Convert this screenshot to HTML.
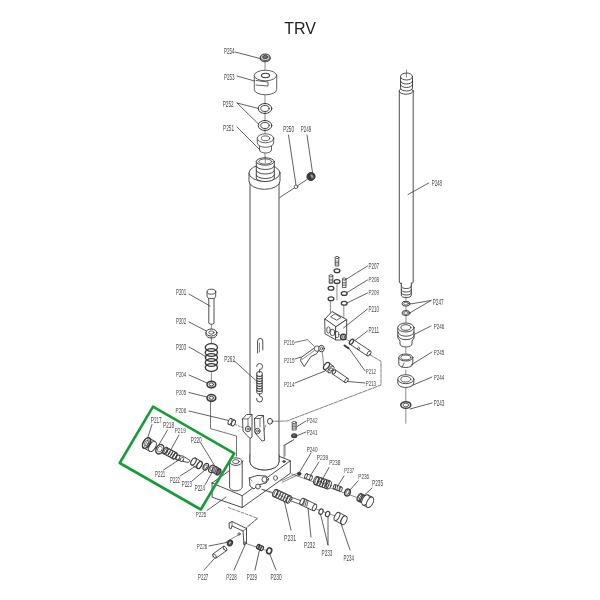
<!DOCTYPE html>
<html><head><meta charset="utf-8"><style>
html,body{margin:0;padding:0;background:#fff;}
body{width:600px;height:600px;overflow:hidden;position:relative;}
svg{position:absolute;left:0;top:0;filter:blur(0.3px);}
text{font-family:"Liberation Sans",sans-serif;}
</style></head><body>
<svg width="600" height="600" viewBox="0 0 600 600" stroke-linecap="round" stroke-linejoin="round">
<text x="300" y="33.6" font-size="16" text-anchor="middle" fill="#222" style="font-family:'Liberation Sans',sans-serif">TRV</text>
<line x1="265" y1="60" x2="265" y2="72" stroke="#3a3a3a" stroke-width="0.6"/>
<line x1="265" y1="95" x2="265" y2="104" stroke="#3a3a3a" stroke-width="0.6"/>
<line x1="265" y1="112" x2="265" y2="121" stroke="#3a3a3a" stroke-width="0.6"/>
<line x1="265" y1="129" x2="265" y2="134" stroke="#3a3a3a" stroke-width="0.6"/>
<line x1="265" y1="152" x2="265" y2="160" stroke="#3a3a3a" stroke-width="0.6"/>
<ellipse cx="265.2" cy="57.9" rx="5.0" ry="3.9" stroke="#3a3a3a" stroke-width="1.1" fill="#c8c8c8"/>
<path d="M260.5,58 A4.7,2.5 0 0 0 270,58" stroke="#3a3a3a" stroke-width="0.8" fill="none"/>
<ellipse cx="265.2" cy="57" rx="2.6" ry="1.5" stroke="#3a3a3a" stroke-width="0.9" fill="#777"/>
<text x="224" y="53.5" font-size="8.23" textLength="10.50" lengthAdjust="spacingAndGlyphs" fill="#444">P254</text>
<line x1="235" y1="52" x2="260" y2="58.5" stroke="#3a3a3a" stroke-width="0.8"/>
<path d="M254.3,75.5 L254.3,89.5 A11.2,5.3 0 0 0 276.7,89.5 L276.7,75.5 Z" stroke="#3a3a3a" stroke-width="0.8" fill="#fff"/>
<ellipse cx="265.5" cy="75.5" rx="11.2" ry="5.3" stroke="#3a3a3a" stroke-width="0.8" fill="#fff"/>
<ellipse cx="265.5" cy="75.5" rx="4" ry="2.2" stroke="#3a3a3a" stroke-width="1.1" fill="none"/>
<polyline points="256,80.5 268,82 268,86 256,85" stroke="#3a3a3a" stroke-width="0.8" fill="none"/>
<text x="224" y="79.5" font-size="8.92" textLength="10.50" lengthAdjust="spacingAndGlyphs" fill="#444">P253</text>
<line x1="237" y1="76" x2="254.5" y2="81" stroke="#3a3a3a" stroke-width="0.8"/>
<ellipse cx="265" cy="108.5" rx="6.8" ry="5" stroke="#3a3a3a" stroke-width="1.0" fill="none"/>
<ellipse cx="265" cy="108.5" rx="4.2" ry="3" stroke="#3a3a3a" stroke-width="0.9" fill="none"/>
<ellipse cx="265" cy="125.5" rx="6.8" ry="5" stroke="#3a3a3a" stroke-width="1.0" fill="none"/>
<ellipse cx="265" cy="125.5" rx="4.2" ry="3" stroke="#3a3a3a" stroke-width="0.9" fill="none"/>
<text x="222.7" y="106.7" font-size="8.78" textLength="11.00" lengthAdjust="spacingAndGlyphs" fill="#444">P252</text>
<line x1="237" y1="103" x2="258.5" y2="108.5" stroke="#3a3a3a" stroke-width="0.8"/>
<line x1="237" y1="103" x2="259" y2="124.5" stroke="#3a3a3a" stroke-width="0.8"/>
<path d="M259.5,140 L259.5,150 A6,3 0 0 0 271.5,150 L271.5,140" stroke="#3a3a3a" stroke-width="0.8" fill="#fff"/>
<path d="M257.3,138.3 L257.3,142.8 A8.2,4.5 0 0 0 273.7,142.8 L273.7,138.3 Z" stroke="#3a3a3a" stroke-width="0.8" fill="#fff"/>
<ellipse cx="265.5" cy="138.3" rx="8.2" ry="4.5" stroke="#3a3a3a" stroke-width="0.8" fill="#fff"/>
<ellipse cx="265.5" cy="138.3" rx="4.2" ry="2.4" stroke="#3a3a3a" stroke-width="0.8" fill="none"/>
<text x="223" y="131.3" font-size="8.64" textLength="11.00" lengthAdjust="spacingAndGlyphs" fill="#444">P251</text>
<line x1="237" y1="127" x2="260" y2="150" stroke="#3a3a3a" stroke-width="0.8"/>
<path d="M250,181 L250,462 A14.5,8 0 0 0 279,462 L279,181" stroke="#3a3a3a" stroke-width="0.9" fill="#fff"/>
<path d="M249,173 L249,181 A15.5,8.3 0 0 0 280,181 L280,173" stroke="#3a3a3a" stroke-width="0.9" fill="#fff"/>
<ellipse cx="264.5" cy="173" rx="15.5" ry="8.3" stroke="#3a3a3a" stroke-width="0.9" fill="#fff"/>
<path d="M256.3,161.5 L256.3,178 A9,3.5 0 0 0 274.3,178 L274.3,161.5" stroke="#3a3a3a" stroke-width="0.9" fill="#fff"/>
<path d="M256.3,166 A9,3.5 0 0 0 274.3,166" stroke="#3a3a3a" stroke-width="0.9" fill="none"/>
<path d="M256.3,170.5 A9,3.5 0 0 0 274.3,170.5" stroke="#3a3a3a" stroke-width="0.9" fill="none"/>
<path d="M256.3,175 A9,3.5 0 0 0 274.3,175" stroke="#3a3a3a" stroke-width="0.9" fill="none"/>
<ellipse cx="265.3" cy="161.5" rx="9" ry="3.7" stroke="#3a3a3a" stroke-width="0.9" fill="#fff"/>
<ellipse cx="265.3" cy="161.5" rx="6.5" ry="2.6" stroke="#3a3a3a" stroke-width="0.8" fill="none"/>
<line x1="265.3" y1="157" x2="265.3" y2="163" stroke="#3a3a3a" stroke-width="0.6"/>
<text x="283.2" y="132.2" font-size="8.23" textLength="10.80" lengthAdjust="spacingAndGlyphs" fill="#444">P250</text>
<text x="300.7" y="132.2" font-size="8.23" textLength="10.50" lengthAdjust="spacingAndGlyphs" fill="#444">P249</text>
<line x1="288.5" y1="135" x2="296" y2="185" stroke="#3a3a3a" stroke-width="0.8"/>
<line x1="307" y1="135" x2="312.5" y2="172.5" stroke="#3a3a3a" stroke-width="0.8"/>
<line x1="279.8" y1="197.5" x2="307" y2="179.5" stroke="#3a3a3a" stroke-width="0.8"/>
<ellipse cx="296" cy="186.8" rx="1.8" ry="1.8" stroke="#3a3a3a" stroke-width="0.8" fill="#fff"/>
<ellipse cx="311" cy="176.5" rx="4.1" ry="3.9" stroke="#3a3a3a" stroke-width="1.0" fill="#3a3a3a" transform="rotate(-30 311 176.5)"/>
<ellipse cx="312" cy="176.2" rx="1.6" ry="2.6" stroke="#3a3a3a" stroke-width="0.6" fill="#999" transform="rotate(-30 312 176.2)"/>
<path d="M399.3,91 L399.3,282 A7,3 0 0 0 413.2,282 L413.2,91" stroke="#3a3a3a" stroke-width="0.9" fill="#fff"/>
<ellipse cx="406.2" cy="91" rx="7" ry="3.2" stroke="#3a3a3a" stroke-width="0.9" fill="#fff"/>
<path d="M400.5,76.5 L400.5,88 A6,3 0 0 0 412.5,88 L412.5,76.5" stroke="#3a3a3a" stroke-width="0.9" fill="#fff"/>
<path d="M400.5,81 A6,3 0 0 0 412.5,81" stroke="#3a3a3a" stroke-width="0.9" fill="none"/>
<path d="M400.5,84.5 A6,3 0 0 0 412.5,84.5" stroke="#3a3a3a" stroke-width="0.9" fill="none"/>
<ellipse cx="406.5" cy="76.5" rx="6" ry="3.5" stroke="#3a3a3a" stroke-width="0.9" fill="#fff"/>
<line x1="406.5" y1="70" x2="406.5" y2="77" stroke="#3a3a3a" stroke-width="0.6"/>
<text x="431.7" y="186" font-size="8.23" textLength="10.30" lengthAdjust="spacingAndGlyphs" fill="#444">P248</text>
<line x1="428.7" y1="183" x2="408" y2="194.5" stroke="#3a3a3a" stroke-width="0.8"/>
<path d="M401.3,283 L401.3,295 A5,2.5 0 0 0 411.3,295 L411.3,283" stroke="#3a3a3a" stroke-width="0.9" fill="#fff"/>
<path d="M401.3,286 A5,2.5 0 0 0 411.3,286" stroke="#3a3a3a" stroke-width="0.9" fill="none"/>
<path d="M401.3,289.5 A5,2.5 0 0 0 411.3,289.5" stroke="#3a3a3a" stroke-width="0.9" fill="none"/>
<path d="M401.3,292.5 A5,2.5 0 0 0 411.3,292.5" stroke="#3a3a3a" stroke-width="0.9" fill="none"/>
<line x1="406" y1="297" x2="406" y2="300" stroke="#3a3a3a" stroke-width="0.6"/>
<line x1="406" y1="307" x2="406" y2="310" stroke="#3a3a3a" stroke-width="0.6"/>
<line x1="406" y1="316" x2="406" y2="324" stroke="#3a3a3a" stroke-width="0.6"/>
<ellipse cx="406" cy="303.7" rx="4" ry="2.5" stroke="#3a3a3a" stroke-width="1.0" fill="none"/>
<ellipse cx="406" cy="303.7" rx="2.3" ry="1.4" stroke="#3a3a3a" stroke-width="0.7" fill="none"/>
<ellipse cx="406" cy="313" rx="4" ry="2.5" stroke="#3a3a3a" stroke-width="1.0" fill="none"/>
<ellipse cx="406" cy="313" rx="2.3" ry="1.4" stroke="#3a3a3a" stroke-width="0.7" fill="none"/>
<text x="432.7" y="304.7" font-size="8.23" textLength="11.00" lengthAdjust="spacingAndGlyphs" fill="#444">P247</text>
<line x1="431" y1="300.5" x2="410.5" y2="304" stroke="#3a3a3a" stroke-width="0.8"/>
<line x1="431" y1="300.5" x2="410.5" y2="312.5" stroke="#3a3a3a" stroke-width="0.8"/>
<path d="M397.8,327.5 L397.8,338 L400,341 L400,344 A6,3 0 0 0 412,344 L412,341 L414,338 L414,327.5" stroke="#3a3a3a" stroke-width="0.9" fill="#fff"/>
<path d="M397.9,332 A8.1,4.2 0 0 0 414.1,332" stroke="#3a3a3a" stroke-width="0.9" fill="none"/>
<path d="M397.9,335.5 A8.1,4.2 0 0 0 414.1,335.5" stroke="#3a3a3a" stroke-width="0.9" fill="none"/>
<ellipse cx="405.9" cy="327.5" rx="8.1" ry="4.5" stroke="#3a3a3a" stroke-width="0.9" fill="#fff"/>
<ellipse cx="405.9" cy="327.5" rx="5" ry="2.8" stroke="#3a3a3a" stroke-width="0.9" fill="none"/>
<text x="433.7" y="329.3" font-size="7.68" textLength="10.50" lengthAdjust="spacingAndGlyphs" fill="#444">P246</text>
<line x1="431" y1="326" x2="414" y2="334.5" stroke="#3a3a3a" stroke-width="0.8"/>
<line x1="405.8" y1="348" x2="405.8" y2="353" stroke="#3a3a3a" stroke-width="0.6"/>
<path d="M398.8,357.5 L398.8,364 A7,3.5 0 0 0 412.8,364 L412.8,357.5" stroke="#3a3a3a" stroke-width="0.9" fill="#fff"/>
<ellipse cx="405.8" cy="357.5" rx="7" ry="3.5" stroke="#3a3a3a" stroke-width="0.9" fill="#fff"/>
<ellipse cx="405.8" cy="357.5" rx="5" ry="2.4" stroke="#3a3a3a" stroke-width="0.8" fill="none"/>
<line x1="404" y1="363" x2="402" y2="367.5" stroke="#3a3a3a" stroke-width="0.7"/>
<text x="433.7" y="355" font-size="7.96" textLength="10.50" lengthAdjust="spacingAndGlyphs" fill="#444">P245</text>
<line x1="432" y1="352" x2="411" y2="365" stroke="#3a3a3a" stroke-width="0.8"/>
<line x1="405.8" y1="370" x2="405.8" y2="375" stroke="#3a3a3a" stroke-width="0.6"/>
<path d="M397.8,379.2 L397.8,383 A8,4.5 0 0 0 413.8,383 L413.8,379.2" stroke="#3a3a3a" stroke-width="0.9" fill="#fff"/>
<ellipse cx="405.8" cy="379.2" rx="8" ry="4.5" stroke="#3a3a3a" stroke-width="0.9" fill="#fff"/>
<ellipse cx="405.8" cy="379.2" rx="5" ry="2.8" stroke="#3a3a3a" stroke-width="0.8" fill="none"/>
<text x="433.7" y="380" font-size="7.96" textLength="10.50" lengthAdjust="spacingAndGlyphs" fill="#444">P244</text>
<line x1="432" y1="377" x2="412" y2="385.5" stroke="#3a3a3a" stroke-width="0.8"/>
<line x1="405.8" y1="388" x2="405.8" y2="401" stroke="#3a3a3a" stroke-width="0.6"/>
<ellipse cx="405.8" cy="405" rx="5" ry="3.3" stroke="#3a3a3a" stroke-width="1.5" fill="#fff"/>
<ellipse cx="405.8" cy="405" rx="2.8" ry="1.8" stroke="#3a3a3a" stroke-width="0.8" fill="none"/>
<text x="433.7" y="406" font-size="8.23" textLength="10.50" lengthAdjust="spacingAndGlyphs" fill="#444">P243</text>
<line x1="432" y1="403" x2="410" y2="409" stroke="#3a3a3a" stroke-width="0.8"/>
<line x1="405.8" y1="409" x2="405.8" y2="423.3" stroke="#3a3a3a" stroke-width="0.6"/>
<path d="M208.8,295 L208.8,323 A2.6,1.3 0 0 0 214,323 L214,295" stroke="#3a3a3a" stroke-width="0.9" fill="#fff"/>
<path d="M207.1,291.7 L207.1,296.3 A4.3,2.3 0 0 0 215.7,296.3 L215.7,291.7" stroke="#3a3a3a" stroke-width="0.9" fill="#fff"/>
<ellipse cx="211.4" cy="291.7" rx="4.3" ry="2.5" stroke="#3a3a3a" stroke-width="0.9" fill="#fff"/>
<text x="176" y="295.2" font-size="8.37" textLength="10.20" lengthAdjust="spacingAndGlyphs" fill="#444">P201</text>
<line x1="189" y1="294" x2="210" y2="306" stroke="#3a3a3a" stroke-width="0.8"/>
<line x1="211.4" y1="325" x2="211.4" y2="329" stroke="#3a3a3a" stroke-width="0.6"/>
<path d="M206,332.5 L206,334.5 A5.4,3.5 0 0 0 216.8,334.5 L216.8,332.5" stroke="#3a3a3a" stroke-width="1.0" fill="#fff"/>
<ellipse cx="211.4" cy="332.5" rx="5.4" ry="3.5" stroke="#3a3a3a" stroke-width="1.0" fill="#fff"/>
<ellipse cx="211.4" cy="332.5" rx="2.6" ry="1.6" stroke="#3a3a3a" stroke-width="0.8" fill="none"/>
<text x="176" y="324" font-size="8.23" textLength="10.20" lengthAdjust="spacingAndGlyphs" fill="#444">P202</text>
<line x1="189" y1="322" x2="206.5" y2="331" stroke="#3a3a3a" stroke-width="0.8"/>
<line x1="211.4" y1="337" x2="211.4" y2="343" stroke="#3a3a3a" stroke-width="0.6"/>
<ellipse cx="211.4" cy="347.5" rx="6.1" ry="3.9" stroke="#3a3a3a" stroke-width="1.4" fill="none"/>
<ellipse cx="211.4" cy="352.5" rx="6.1" ry="3.9" stroke="#3a3a3a" stroke-width="1.4" fill="none"/>
<ellipse cx="211.4" cy="357.5" rx="6.1" ry="3.9" stroke="#3a3a3a" stroke-width="1.4" fill="none"/>
<ellipse cx="211.4" cy="362.5" rx="6.1" ry="3.9" stroke="#3a3a3a" stroke-width="1.4" fill="none"/>
<ellipse cx="211.4" cy="367.5" rx="6.1" ry="3.9" stroke="#3a3a3a" stroke-width="1.4" fill="none"/>
<text x="176" y="350.2" font-size="8.78" textLength="10.20" lengthAdjust="spacingAndGlyphs" fill="#444">P203</text>
<line x1="189" y1="347" x2="206.5" y2="357" stroke="#3a3a3a" stroke-width="0.8"/>
<line x1="211.4" y1="372" x2="211.4" y2="381" stroke="#3a3a3a" stroke-width="0.6"/>
<ellipse cx="211.4" cy="384.6" rx="4.4" ry="3.4" stroke="#3a3a3a" stroke-width="1.5" fill="#e6e6e6"/>
<ellipse cx="211.4" cy="384.4" rx="2.2" ry="1.5" stroke="#3a3a3a" stroke-width="0.9" fill="#fff"/>
<path d="M207.3,385.5 A4.2,2.2 0 0 0 215.5,385.5" stroke="#3a3a3a" stroke-width="0.7" fill="none"/>
<text x="176" y="377" font-size="7.96" textLength="10.20" lengthAdjust="spacingAndGlyphs" fill="#444">P204</text>
<line x1="189" y1="375" x2="207" y2="383" stroke="#3a3a3a" stroke-width="0.8"/>
<ellipse cx="211.4" cy="398" rx="4.4" ry="3.4" stroke="#3a3a3a" stroke-width="1.5" fill="#e6e6e6"/>
<ellipse cx="211.4" cy="397.8" rx="2.2" ry="1.5" stroke="#3a3a3a" stroke-width="0.9" fill="#fff"/>
<path d="M207.3,398.9 A4.2,2.2 0 0 0 215.5,398.9" stroke="#3a3a3a" stroke-width="0.7" fill="none"/>
<text x="176" y="395" font-size="7.82" textLength="10.20" lengthAdjust="spacingAndGlyphs" fill="#444">P205</text>
<line x1="189" y1="392.5" x2="207" y2="397" stroke="#3a3a3a" stroke-width="0.8"/>
<polyline points="210.5,401.5 210.5,428.6 236.5,436 236.5,456" stroke="#3a3a3a" stroke-width="0.7" fill="none"/>
<polygon points="228.78,424.35 232.28,425.85 234.72,420.15 231.22,418.65" stroke="#3a3a3a" stroke-width="0.9" fill="#fff"/>
<ellipse cx="233.50" cy="423.00" rx="1.71" ry="3.10" stroke="#3a3a3a" stroke-width="0.9" fill="#fff" transform="rotate(23.2 233.50 423.00)"/>
<ellipse cx="230.00" cy="421.50" rx="1.71" ry="3.10" stroke="#3a3a3a" stroke-width="0.9" fill="#fff" transform="rotate(23.2 230.00 421.50)"/>
<text x="175.4" y="412.8" font-size="7.13" textLength="10.90" lengthAdjust="spacingAndGlyphs" fill="#444">P206</text>
<line x1="189" y1="411" x2="228.5" y2="420.5" stroke="#3a3a3a" stroke-width="0.8"/>
<line x1="235" y1="424.5" x2="244" y2="428" stroke="#3a3a3a" stroke-width="0.6" stroke-dasharray="2,1.5"/>
<path d="M257.6,353 L257.6,341 A2.6,2.6 0 0 1 262.8,341 L262.8,350" stroke="#3a3a3a" stroke-width="0.9" fill="none"/>
<line x1="259.5" y1="352" x2="259.5" y2="343" stroke="#3a3a3a" stroke-width="0.6"/>
<path d="M256.8,373 L256.8,392.5 A2.7,1.5 0 0 0 262.2,392.5 L262.2,373 A2.7,1.5 0 0 0 256.8,373" stroke="#3a3a3a" stroke-width="0.9" fill="#fff"/>
<path d="M256.8,375 A2.7,1.4 0 0 0 262.2,375" stroke="#3a3a3a" stroke-width="1.1" fill="none"/>
<path d="M256.8,377.5 A2.7,1.4 0 0 0 262.2,377.5" stroke="#3a3a3a" stroke-width="1.1" fill="none"/>
<path d="M256.8,380 A2.7,1.4 0 0 0 262.2,380" stroke="#3a3a3a" stroke-width="1.1" fill="none"/>
<path d="M256.8,382.5 A2.7,1.4 0 0 0 262.2,382.5" stroke="#3a3a3a" stroke-width="1.1" fill="none"/>
<path d="M256.8,385 A2.7,1.4 0 0 0 262.2,385" stroke="#3a3a3a" stroke-width="1.1" fill="none"/>
<path d="M256.8,387.5 A2.7,1.4 0 0 0 262.2,387.5" stroke="#3a3a3a" stroke-width="1.1" fill="none"/>
<path d="M256.8,390 A2.7,1.4 0 0 0 262.2,390" stroke="#3a3a3a" stroke-width="1.1" fill="none"/>
<path d="M256.6,366.5 A3,3 0 1 1 259.6,369.5 L259.6,372.5" stroke="#3a3a3a" stroke-width="0.9" fill="none"/>
<path d="M259.6,393.5 L259.6,396 A3,3 0 1 1 256.6,398.5" stroke="#3a3a3a" stroke-width="0.9" fill="none"/>
<text x="224.2" y="362.2" font-size="9.19" textLength="10.80" lengthAdjust="spacingAndGlyphs" fill="#444">P262</text>
<line x1="234.5" y1="361" x2="257" y2="381.5" stroke="#3a3a3a" stroke-width="0.8"/>
<polyline points="242.5,419 246.5,414.5 252,414.5 252,437 250,438.5 247,435.5 243,431 242.5,419" stroke="#3a3a3a" stroke-width="0.9" fill="#fff"/>
<polyline points="242.5,419 248,419 252,414.5" stroke="#3a3a3a" stroke-width="0.7" fill="none"/>
<line x1="248" y1="419" x2="248" y2="426" stroke="#3a3a3a" stroke-width="0.7"/>
<ellipse cx="248" cy="429" rx="2.6" ry="2.8" stroke="#3a3a3a" stroke-width="0.9" fill="#fff"/>
<ellipse cx="248" cy="429" rx="1.0" ry="1.1" stroke="#3a3a3a" stroke-width="0.7" fill="none"/>
<polyline points="254.5,418.5 258,415.5 263.5,415.5 264.5,440.5 262,441 259,437.5 255,433 254.5,418.5" stroke="#3a3a3a" stroke-width="0.9" fill="#fff"/>
<polyline points="254.5,418.5 260,418.5 263.5,415.5" stroke="#3a3a3a" stroke-width="0.7" fill="none"/>
<line x1="260" y1="418.5" x2="260" y2="427" stroke="#3a3a3a" stroke-width="0.7"/>
<ellipse cx="257.5" cy="431" rx="2.6" ry="2.8" stroke="#3a3a3a" stroke-width="0.9" fill="#fff"/>
<ellipse cx="257.5" cy="431" rx="1.0" ry="1.1" stroke="#3a3a3a" stroke-width="0.7" fill="none"/>
<line x1="264" y1="430" x2="266" y2="425" stroke="#3a3a3a" stroke-width="0.6" stroke-dasharray="2,1.5"/>
<ellipse cx="270" cy="421.3" rx="2.5" ry="2.9" stroke="#3a3a3a" stroke-width="1.0" fill="#fff"/>
<path d="M335.2,257.5 L335.2,266.0 L338.8,266.0 L338.8,257.5" stroke="#3a3a3a" stroke-width="0.8" fill="#fff"/>
<ellipse cx="337" cy="257.5" rx="1.8" ry="1.1" stroke="#3a3a3a" stroke-width="0.8" fill="#fff"/>
<line x1="335.4" y1="261.0" x2="338.6" y2="261.0" stroke="#3a3a3a" stroke-width="0.6"/>
<line x1="335.4" y1="262.5" x2="338.6" y2="262.5" stroke="#3a3a3a" stroke-width="0.6"/>
<line x1="335.4" y1="264.0" x2="338.6" y2="264.0" stroke="#3a3a3a" stroke-width="0.6"/>
<path d="M329.2,275.8 L329.2,283.3 L332.8,283.3 L332.8,275.8" stroke="#3a3a3a" stroke-width="0.8" fill="#fff"/>
<ellipse cx="331" cy="275.8" rx="1.8" ry="1.1" stroke="#3a3a3a" stroke-width="0.8" fill="#fff"/>
<line x1="329.4" y1="279.3" x2="332.6" y2="279.3" stroke="#3a3a3a" stroke-width="0.6"/>
<line x1="329.4" y1="280.8" x2="332.6" y2="280.8" stroke="#3a3a3a" stroke-width="0.6"/>
<line x1="329.4" y1="282.3" x2="332.6" y2="282.3" stroke="#3a3a3a" stroke-width="0.6"/>
<path d="M342.4,279 L342.4,287.5 L346.0,287.5 L346.0,279" stroke="#3a3a3a" stroke-width="0.8" fill="#fff"/>
<ellipse cx="344.2" cy="279" rx="1.8" ry="1.1" stroke="#3a3a3a" stroke-width="0.8" fill="#fff"/>
<line x1="342.59999999999997" y1="282.5" x2="345.8" y2="282.5" stroke="#3a3a3a" stroke-width="0.6"/>
<line x1="342.59999999999997" y1="284.0" x2="345.8" y2="284.0" stroke="#3a3a3a" stroke-width="0.6"/>
<line x1="342.59999999999997" y1="285.5" x2="345.8" y2="285.5" stroke="#3a3a3a" stroke-width="0.6"/>
<ellipse cx="337" cy="270.7" rx="2.9" ry="1.9" stroke="#3a3a3a" stroke-width="1.3" fill="#fff"/>
<ellipse cx="337" cy="281.5" rx="2.9" ry="1.9" stroke="#3a3a3a" stroke-width="1.3" fill="#fff"/>
<ellipse cx="331" cy="288.2" rx="2.9" ry="1.9" stroke="#3a3a3a" stroke-width="1.3" fill="#fff"/>
<ellipse cx="331" cy="298.7" rx="2.9" ry="1.9" stroke="#3a3a3a" stroke-width="1.3" fill="#fff"/>
<ellipse cx="344.2" cy="293.5" rx="2.9" ry="1.9" stroke="#3a3a3a" stroke-width="1.3" fill="#fff"/>
<ellipse cx="344.2" cy="303.2" rx="2.9" ry="1.9" stroke="#3a3a3a" stroke-width="1.3" fill="#fff"/>
<line x1="337" y1="284" x2="337" y2="300" stroke="#3a3a3a" stroke-width="0.6"/>
<line x1="330.4" y1="301" x2="330.4" y2="322.5" stroke="#3a3a3a" stroke-width="0.6"/>
<line x1="343.8" y1="306" x2="343.8" y2="320" stroke="#3a3a3a" stroke-width="0.6"/>
<polygon points="325,319 332,311.5 346.7,319.5 336,326.7" stroke="#3a3a3a" stroke-width="0.9" fill="#fff"/>
<polygon points="325,319 336,326.7 336,340 325.4,334" stroke="#3a3a3a" stroke-width="0.9" fill="#fff"/>
<polygon points="336,326.7 346.7,319.5 346.7,335 341,340 336,340" stroke="#3a3a3a" stroke-width="0.9" fill="#fff"/>
<polygon points="331,316.5 335,313.8 341,317.5 337,320" stroke="#3a3a3a" stroke-width="0.8" fill="none"/>
<ellipse cx="328.5" cy="330" rx="1.8" ry="3.2" stroke="#3a3a3a" stroke-width="0.8" fill="none"/>
<ellipse cx="332.5" cy="332.5" rx="2.4" ry="3.2" stroke="#3a3a3a" stroke-width="0.9" fill="#fff"/>
<ellipse cx="337" cy="334.5" rx="2.0" ry="3.2" stroke="#3a3a3a" stroke-width="0.8" fill="none"/>
<ellipse cx="343.3" cy="337" rx="2.8" ry="2.8" stroke="#3a3a3a" stroke-width="1.4" fill="#fff"/>
<ellipse cx="343.3" cy="337" rx="1.2" ry="1.2" stroke="#3a3a3a" stroke-width="0.7" fill="none"/>
<text x="368.5" y="268.7" font-size="8.23" textLength="10.50" lengthAdjust="spacingAndGlyphs" fill="#444">P207</text>
<line x1="367.5" y1="266" x2="345" y2="280" stroke="#3a3a3a" stroke-width="0.8"/>
<text x="368.5" y="282" font-size="7.96" textLength="10.50" lengthAdjust="spacingAndGlyphs" fill="#444">P208</text>
<line x1="367.5" y1="280" x2="347" y2="292.5" stroke="#3a3a3a" stroke-width="0.8"/>
<text x="368.5" y="295" font-size="7.82" textLength="10.50" lengthAdjust="spacingAndGlyphs" fill="#444">P209</text>
<line x1="367.5" y1="293" x2="347" y2="303" stroke="#3a3a3a" stroke-width="0.8"/>
<text x="368.5" y="311.5" font-size="8.23" textLength="10.50" lengthAdjust="spacingAndGlyphs" fill="#444">P210</text>
<line x1="367.5" y1="309" x2="343.5" y2="328" stroke="#3a3a3a" stroke-width="0.8"/>
<text x="368.5" y="333" font-size="8.50" textLength="10.50" lengthAdjust="spacingAndGlyphs" fill="#444">P211</text>
<line x1="367.5" y1="331" x2="353" y2="342" stroke="#3a3a3a" stroke-width="0.8"/>
<line x1="345" y1="338.5" x2="351" y2="342" stroke="#3a3a3a" stroke-width="0.6"/>
<polygon points="349.89,344.21 367.39,355.91 370.61,351.09 353.11,339.39" stroke="#3a3a3a" stroke-width="0.9" fill="#fff"/>
<ellipse cx="369.00" cy="353.50" rx="1.59" ry="2.90" stroke="#3a3a3a" stroke-width="0.9" fill="#fff" transform="rotate(33.8 369.00 353.50)"/>
<ellipse cx="351.50" cy="341.80" rx="1.59" ry="2.90" stroke="#3a3a3a" stroke-width="1.3" fill="#fff" transform="rotate(33.8 351.50 341.80)"/>
<ellipse cx="358.5" cy="348.5" rx="1.0" ry="1.3" stroke="#3a3a3a" stroke-width="0.7" fill="none" transform="rotate(34 358.5 348.5)"/>
<path d="M344.5,345.5 L348.5,348.3" stroke="#3a3a3a" stroke-width="2.0" fill="none"/>
<text x="365.8" y="374" font-size="7.41" textLength="10.20" lengthAdjust="spacingAndGlyphs" fill="#444">P212</text>
<line x1="365" y1="370.8" x2="348.3" y2="347.5" stroke="#3a3a3a" stroke-width="0.8"/>
<polygon points="324.04,369.16 328.54,372.66 333.46,366.34 328.96,362.84" stroke="#3a3a3a" stroke-width="0.9" fill="#fff"/>
<ellipse cx="331.00" cy="369.50" rx="2.20" ry="4.00" stroke="#3a3a3a" stroke-width="0.9" fill="#fff" transform="rotate(37.9 331.00 369.50)"/>
<ellipse cx="326.50" cy="366.00" rx="2.20" ry="4.00" stroke="#3a3a3a" stroke-width="1.3" fill="#fff" transform="rotate(37.9 326.50 366.00)"/>
<ellipse cx="331" cy="369.5" rx="1.3" ry="1.8" stroke="#3a3a3a" stroke-width="0.7" fill="none" transform="rotate(38 331 369.5)"/>
<text x="284" y="387" font-size="7.54" textLength="10.50" lengthAdjust="spacingAndGlyphs" fill="#444">P214</text>
<line x1="295" y1="383" x2="325" y2="371" stroke="#3a3a3a" stroke-width="0.8"/>
<polygon points="332.59,374.07 345.09,382.57 347.91,378.43 335.41,369.93" stroke="#3a3a3a" stroke-width="0.9" fill="#fff"/>
<ellipse cx="346.50" cy="380.50" rx="1.38" ry="2.50" stroke="#3a3a3a" stroke-width="0.9" fill="#fff" transform="rotate(34.2 346.50 380.50)"/>
<ellipse cx="334.00" cy="372.00" rx="1.38" ry="2.50" stroke="#3a3a3a" stroke-width="0.9" fill="#fff" transform="rotate(34.2 334.00 372.00)"/>
<text x="365.8" y="386" font-size="7.54" textLength="10.20" lengthAdjust="spacingAndGlyphs" fill="#444">P213</text>
<line x1="365" y1="383" x2="347.5" y2="381.5" stroke="#3a3a3a" stroke-width="0.8"/>
<polyline points="314.3,348 301.4,357.3 300.5,360.7 304.3,366.5 310.8,356.6 316.6,353.7 318.3,351.3" stroke="#3a3a3a" stroke-width="0.9" fill="#fff"/>
<line x1="302" y1="359.5" x2="314.5" y2="350.5" stroke="#3a3a3a" stroke-width="0.6"/>
<ellipse cx="317" cy="348.6" rx="2.6" ry="2.8" stroke="#3a3a3a" stroke-width="0.8" fill="#fff"/>
<ellipse cx="321.5" cy="348.6" rx="2.8" ry="3.3" stroke="#3a3a3a" stroke-width="1.0" fill="#fff"/>
<ellipse cx="321.5" cy="348.6" rx="1.1" ry="1.5" stroke="#3a3a3a" stroke-width="0.8" fill="none"/>
<text x="284" y="345" font-size="7.54" textLength="10.50" lengthAdjust="spacingAndGlyphs" fill="#444">P216</text>
<polyline points="295,342.3 307.5,339.7 314.3,346.4" stroke="#3a3a3a" stroke-width="0.7" fill="none"/>
<text x="284" y="363" font-size="7.41" textLength="10.50" lengthAdjust="spacingAndGlyphs" fill="#444">P215</text>
<line x1="295" y1="359" x2="301" y2="357" stroke="#3a3a3a" stroke-width="0.8"/>
<polyline points="322.4,352.5 323.6,364.8" stroke="#3a3a3a" stroke-width="0.6" fill="none"/>
<polyline points="369.5,354.5 381,361.3 381,385 287,421 272.5,421.3" stroke="#3a3a3a" stroke-width="0.65" fill="none" stroke-dasharray="4,1.2"/>
<polyline points="212.1,483 212.1,497.2 242.2,507.5 290.3,473.3 290.3,460.8 242.2,495.7 212.1,483" stroke="#3a3a3a" stroke-width="0.9" fill="#fff"/>
<line x1="242.2" y1="495.7" x2="242.2" y2="507.5" stroke="#3a3a3a" stroke-width="0.9"/>
<line x1="212.1" y1="483" x2="243" y2="461" stroke="#3a3a3a" stroke-width="0.9"/>
<line x1="279.4" y1="456.4" x2="290.5" y2="460.8" stroke="#3a3a3a" stroke-width="0.9"/>
<path d="M250,455 L250,462 A14.5,8 0 0 0 279,462 L279,455" stroke="#3a3a3a" stroke-width="0.9" fill="#fff"/>
<path d="M229.6,461.6 L229.6,487.0 A6.3,3.8 0 0 0 242.20000000000002,487.0 L242.20000000000002,461.6 Z" stroke="#3a3a3a" stroke-width="0.9" fill="#fff"/>
<ellipse cx="235.9" cy="461.6" rx="6.3" ry="3.8" stroke="#3a3a3a" stroke-width="0.9" fill="#fff"/>
<ellipse cx="235.9" cy="461.6" rx="3.4" ry="2" stroke="#3a3a3a" stroke-width="0.8" fill="none"/>
<polyline points="249.3,478 257,475.5 266,476 269,479 266,483 258,485 254,489 250,486 249.3,478" stroke="#3a3a3a" stroke-width="0.9" fill="#fff"/>
<line x1="249.3" y1="478" x2="252" y2="481" stroke="#3a3a3a" stroke-width="0.6"/>
<ellipse cx="264.5" cy="479.5" rx="2.5" ry="2.8" stroke="#3a3a3a" stroke-width="0.9" fill="#fff"/>
<ellipse cx="258" cy="486.5" rx="2.3" ry="2.5" stroke="#3a3a3a" stroke-width="0.9" fill="#fff"/>
<ellipse cx="275.5" cy="478" rx="2" ry="2.3" stroke="#3a3a3a" stroke-width="0.8" fill="none"/>
<line x1="281.8" y1="480.6" x2="298.4" y2="472.7" stroke="#3a3a3a" stroke-width="0.6"/>
<line x1="282.5" y1="482.2" x2="299" y2="474.3" stroke="#3a3a3a" stroke-width="0.6"/>
<line x1="284" y1="445.2" x2="284" y2="457.8" stroke="#3a3a3a" stroke-width="0.6"/>
<line x1="284" y1="445.2" x2="293.5" y2="439.8" stroke="#3a3a3a" stroke-width="0.6"/>
<line x1="262" y1="489.3" x2="274.5" y2="493" stroke="#3a3a3a" stroke-width="0.6"/>
<polyline points="228.3,507.5 257.5,518.3 246.7,527.5" stroke="#3a3a3a" stroke-width="0.6" fill="none" stroke-dasharray="3,1.5"/>
<text x="195.8" y="516.7" font-size="8.09" textLength="10.50" lengthAdjust="spacingAndGlyphs" fill="#444">P225</text>
<line x1="207" y1="510.5" x2="226" y2="497" stroke="#3a3a3a" stroke-width="0.8"/>
<polygon points="153,406.7 234.2,453.3 200.8,509.5 119.7,463" stroke="#1a9a3c" stroke-width="2.6" fill="none"/>
<polygon points="143.68,447.84 149.68,451.34 155.32,441.66 149.32,438.16" stroke="#3a3a3a" stroke-width="1.0" fill="#fff"/>
<ellipse cx="146.50" cy="443.00" rx="3.08" ry="5.60" stroke="#3a3a3a" stroke-width="1.0" fill="#fff" transform="rotate(30.3 146.50 443.00)"/>
<ellipse cx="152.50" cy="446.50" rx="3.08" ry="5.60" stroke="#3a3a3a" stroke-width="1.0" fill="#fff" transform="rotate(30.3 152.50 446.50)"/>
<ellipse cx="146.5" cy="443" rx="3.19" ry="5.80" stroke="#3a3a3a" stroke-width="1.5" fill="#fff" transform="rotate(30 146.5 443)"/>
<ellipse cx="146.5" cy="443" rx="1.75" ry="3.19" stroke="#3a3a3a" stroke-width="0.6" fill="none" transform="rotate(30 146.5 443)"/>
<line x1="148.5" y1="439.0" x2="144.5" y2="446.5" stroke="#3a3a3a" stroke-width="0.6"/>
<line x1="150.1" y1="439.9" x2="146.1" y2="447.4" stroke="#3a3a3a" stroke-width="0.6"/>
<line x1="151.7" y1="440.8" x2="147.7" y2="448.3" stroke="#3a3a3a" stroke-width="0.6"/>
<text x="150.8" y="423.3" font-size="9.05" textLength="10.90" lengthAdjust="spacingAndGlyphs" fill="#444">P217</text>
<line x1="152" y1="424.5" x2="147.5" y2="438.5" stroke="#3a3a3a" stroke-width="0.8"/>
<ellipse cx="159.8" cy="449.2" rx="3.60" ry="5.00" stroke="#3a3a3a" stroke-width="1.5" fill="#fff" transform="rotate(30 159.8 449.2)"/>
<ellipse cx="159.8" cy="449.2" rx="2.16" ry="3.00" stroke="#3a3a3a" stroke-width="0.6" fill="none" transform="rotate(30 159.8 449.2)"/>
<text x="163" y="428.3" font-size="9.05" textLength="11.20" lengthAdjust="spacingAndGlyphs" fill="#444">P218</text>
<line x1="167.5" y1="430" x2="159" y2="444.5" stroke="#3a3a3a" stroke-width="0.8"/>
<polygon points="163.27,453.65 173.27,459.15 176.73,452.85 166.73,447.35" stroke="#3a3a3a" stroke-width="0.9" fill="#fff"/>
<ellipse cx="165.00" cy="450.50" rx="1.62" ry="3.60" stroke="#3a3a3a" stroke-width="0.9" fill="#fff" transform="rotate(28.8 165.00 450.50)"/>
<ellipse cx="175.00" cy="456.00" rx="1.62" ry="3.60" stroke="#3a3a3a" stroke-width="0.9" fill="#fff" transform="rotate(28.8 175.00 456.00)"/>
<ellipse cx="166.00" cy="451.00" rx="1.6" ry="3.6" stroke="#3a3a3a" stroke-width="0.8" fill="none" transform="rotate(29 166.00 451.00)"/>
<ellipse cx="168.20" cy="452.20" rx="1.6" ry="3.6" stroke="#3a3a3a" stroke-width="0.8" fill="none" transform="rotate(29 168.20 452.20)"/>
<ellipse cx="170.40" cy="453.40" rx="1.6" ry="3.6" stroke="#3a3a3a" stroke-width="0.8" fill="none" transform="rotate(29 170.40 453.40)"/>
<ellipse cx="172.60" cy="454.60" rx="1.6" ry="3.6" stroke="#3a3a3a" stroke-width="0.8" fill="none" transform="rotate(29 172.60 454.60)"/>
<ellipse cx="174.80" cy="455.80" rx="1.6" ry="3.6" stroke="#3a3a3a" stroke-width="0.8" fill="none" transform="rotate(29 174.80 455.80)"/>
<text x="174.7" y="433.3" font-size="7.96" textLength="11.10" lengthAdjust="spacingAndGlyphs" fill="#444">P219</text>
<line x1="179" y1="435" x2="171" y2="449.5" stroke="#3a3a3a" stroke-width="0.8"/>
<polygon points="177,455.5 183,456 190,460.5 188.5,462.5 181,461 176,459.5" stroke="#3a3a3a" stroke-width="0.9" fill="#fff"/>
<ellipse cx="178" cy="457.5" rx="1.56" ry="2.60" stroke="#3a3a3a" stroke-width="0.9" fill="#fff" transform="rotate(30 178 457.5)"/>
<ellipse cx="182" cy="459.5" rx="1.44" ry="2.40" stroke="#3a3a3a" stroke-width="0.8" fill="#fff" transform="rotate(30 182 459.5)"/>
<text x="155" y="476.7" font-size="9.19" textLength="10.30" lengthAdjust="spacingAndGlyphs" fill="#444">P221</text>
<line x1="163.5" y1="470" x2="179.5" y2="459.5" stroke="#3a3a3a" stroke-width="0.8"/>
<polygon points="191.53,464.87 197.53,468.37 201.47,461.63 195.47,458.13" stroke="#3a3a3a" stroke-width="0.9" fill="#fff"/>
<ellipse cx="193.50" cy="461.50" rx="2.15" ry="3.90" stroke="#3a3a3a" stroke-width="0.9" fill="#fff" transform="rotate(30.3 193.50 461.50)"/>
<ellipse cx="199.50" cy="465.00" rx="2.15" ry="3.90" stroke="#3a3a3a" stroke-width="1.4" fill="#fff" transform="rotate(30.3 199.50 465.00)"/>
<ellipse cx="193.5" cy="461.5" rx="2.09" ry="3.80" stroke="#3a3a3a" stroke-width="0.9" fill="#fff" transform="rotate(30 193.5 461.5)"/>
<text x="170" y="482.5" font-size="9.19" textLength="10.00" lengthAdjust="spacingAndGlyphs" fill="#444">P222</text>
<line x1="180" y1="476" x2="196" y2="466" stroke="#3a3a3a" stroke-width="0.8"/>
<ellipse cx="205.8" cy="466.7" rx="2.34" ry="3.60" stroke="#3a3a3a" stroke-width="1.2" fill="#fff" transform="rotate(30 205.8 466.7)"/>
<ellipse cx="205.8" cy="466.7" rx="1.29" ry="1.98" stroke="#3a3a3a" stroke-width="0.6" fill="none" transform="rotate(30 205.8 466.7)"/>
<ellipse cx="211.7" cy="468.8" rx="2.54" ry="3.90" stroke="#3a3a3a" stroke-width="1.2" fill="#fff" transform="rotate(30 211.7 468.8)"/>
<ellipse cx="211.7" cy="468.8" rx="1.39" ry="2.15" stroke="#3a3a3a" stroke-width="0.6" fill="none" transform="rotate(30 211.7 468.8)"/>
<text x="181.7" y="486.7" font-size="9.19" textLength="10.30" lengthAdjust="spacingAndGlyphs" fill="#444">P223</text>
<line x1="192" y1="481" x2="205" y2="470" stroke="#3a3a3a" stroke-width="0.8"/>
<text x="194.7" y="490.8" font-size="9.05" textLength="10.30" lengthAdjust="spacingAndGlyphs" fill="#444">P224</text>
<line x1="205" y1="485" x2="212" y2="472.5" stroke="#3a3a3a" stroke-width="0.8"/>
<polygon points="212.75,472.30 216.75,474.80 220.25,469.20 216.25,466.70" stroke="#3a3a3a" stroke-width="1.2" fill="#666"/>
<ellipse cx="214.50" cy="469.50" rx="1.98" ry="3.30" stroke="#3a3a3a" stroke-width="1.2" fill="#666" transform="rotate(32.0 214.50 469.50)"/>
<ellipse cx="218.50" cy="472.00" rx="1.98" ry="3.30" stroke="#3a3a3a" stroke-width="1.2" fill="#666" transform="rotate(32.0 218.50 472.00)"/>
<line x1="214.5" y1="466.8" x2="212.8" y2="471.5" stroke="#ddd" stroke-width="0.6"/>
<line x1="215.8" y1="467.6" x2="214.10000000000002" y2="472.3" stroke="#ddd" stroke-width="0.6"/>
<line x1="217.1" y1="468.40000000000003" x2="215.4" y2="473.1" stroke="#ddd" stroke-width="0.6"/>
<text x="190.8" y="442.5" font-size="9.19" textLength="10.90" lengthAdjust="spacingAndGlyphs" fill="#444">P220</text>
<line x1="200.8" y1="443" x2="215.5" y2="467" stroke="#3a3a3a" stroke-width="0.8"/>
<path d="M292.2,422.5 L292.2,430 L296.2,430 L296.2,422.5" stroke="#3a3a3a" stroke-width="0.8" fill="#fff"/>
<ellipse cx="294.2" cy="422.5" rx="2" ry="1.2" stroke="#3a3a3a" stroke-width="0.8" fill="#fff"/>
<line x1="292.4" y1="425.0" x2="296" y2="425.0" stroke="#3a3a3a" stroke-width="0.7"/>
<line x1="292.4" y1="426.6" x2="296" y2="426.6" stroke="#3a3a3a" stroke-width="0.7"/>
<line x1="292.4" y1="428.2" x2="296" y2="428.2" stroke="#3a3a3a" stroke-width="0.7"/>
<ellipse cx="294.2" cy="435.8" rx="2.5" ry="1.9" stroke="#3a3a3a" stroke-width="1.2" fill="#555"/>
<ellipse cx="294.2" cy="435.5" rx="1.0" ry="0.8" stroke="#3a3a3a" stroke-width="0.5" fill="#ccc"/>
<text x="306.7" y="423.3" font-size="7.96" textLength="10.80" lengthAdjust="spacingAndGlyphs" fill="#444">P242</text>
<line x1="306" y1="421" x2="297" y2="426.5" stroke="#3a3a3a" stroke-width="0.8"/>
<text x="306.7" y="435" font-size="7.96" textLength="10.80" lengthAdjust="spacingAndGlyphs" fill="#444">P241</text>
<line x1="306" y1="432" x2="297.5" y2="435.5" stroke="#3a3a3a" stroke-width="0.8"/>
<polyline points="293.3,440 285,445 285,456" stroke="#3a3a3a" stroke-width="0.6" fill="none"/>
<line x1="291.7" y1="474" x2="364" y2="500" stroke="#3a3a3a" stroke-width="0.6"/>
<ellipse cx="299.2" cy="473.8" rx="1.7" ry="1.7" stroke="#3a3a3a" stroke-width="0.8" fill="#333"/>
<ellipse cx="284" cy="461.5" rx="1.3" ry="1.0" stroke="#3a3a3a" stroke-width="0.7" fill="#555"/>
<polygon points="305.11,478.23 310.11,480.23 311.89,475.77 306.89,473.77" stroke="#3a3a3a" stroke-width="0.9" fill="#fff"/>
<ellipse cx="306.00" cy="476.00" rx="1.20" ry="2.40" stroke="#3a3a3a" stroke-width="0.9" fill="#fff" transform="rotate(21.8 306.00 476.00)"/>
<ellipse cx="311.00" cy="478.00" rx="1.20" ry="2.40" stroke="#3a3a3a" stroke-width="0.9" fill="#fff" transform="rotate(21.8 311.00 478.00)"/>
<polygon points="314.59,484.56 327.59,489.06 330.41,480.94 317.41,476.44" stroke="#3a3a3a" stroke-width="0.9" fill="#fff"/>
<ellipse cx="316.00" cy="480.50" rx="2.15" ry="4.30" stroke="#3a3a3a" stroke-width="0.9" fill="#fff" transform="rotate(19.1 316.00 480.50)"/>
<ellipse cx="329.00" cy="485.00" rx="2.15" ry="4.30" stroke="#3a3a3a" stroke-width="0.9" fill="#fff" transform="rotate(19.1 329.00 485.00)"/>
<ellipse cx="317.00" cy="481.00" rx="1.9" ry="4.3" stroke="#3a3a3a" stroke-width="0.9" fill="none" transform="rotate(19 317.00 481.00)"/>
<ellipse cx="319.50" cy="481.90" rx="1.9" ry="4.3" stroke="#3a3a3a" stroke-width="0.9" fill="none" transform="rotate(19 319.50 481.90)"/>
<ellipse cx="322.00" cy="482.80" rx="1.9" ry="4.3" stroke="#3a3a3a" stroke-width="0.9" fill="none" transform="rotate(19 322.00 482.80)"/>
<ellipse cx="324.50" cy="483.70" rx="1.9" ry="4.3" stroke="#3a3a3a" stroke-width="0.9" fill="none" transform="rotate(19 324.50 483.70)"/>
<ellipse cx="327.00" cy="484.60" rx="1.9" ry="4.3" stroke="#3a3a3a" stroke-width="0.9" fill="none" transform="rotate(19 327.00 484.60)"/>
<polygon points="333.67,488.85 340.17,491.35 341.83,487.05 335.33,484.55" stroke="#3a3a3a" stroke-width="0.9" fill="#fff"/>
<ellipse cx="334.50" cy="486.70" rx="1.15" ry="2.30" stroke="#3a3a3a" stroke-width="0.9" fill="#fff" transform="rotate(21.0 334.50 486.70)"/>
<ellipse cx="341.00" cy="489.20" rx="1.15" ry="2.30" stroke="#3a3a3a" stroke-width="0.9" fill="#fff" transform="rotate(21.0 341.00 489.20)"/>
<line x1="335.5" y1="485.5" x2="335" y2="489.0" stroke="#3a3a3a" stroke-width="0.8"/>
<line x1="337.5" y1="486.3" x2="337" y2="489.8" stroke="#3a3a3a" stroke-width="0.8"/>
<line x1="339.5" y1="487.1" x2="339" y2="490.6" stroke="#3a3a3a" stroke-width="0.8"/>
<ellipse cx="347.5" cy="492.5" rx="2.70" ry="3.60" stroke="#3a3a3a" stroke-width="1.4" fill="#fff" transform="rotate(20 347.5 492.5)"/>
<ellipse cx="347.5" cy="492.5" rx="1.49" ry="1.98" stroke="#3a3a3a" stroke-width="0.6" fill="none" transform="rotate(20 347.5 492.5)"/>
<polygon points="357.71,500.88 363.71,503.88 367.29,496.72 361.29,493.72" stroke="#3a3a3a" stroke-width="0.9" fill="#fff"/>
<ellipse cx="359.50" cy="497.30" rx="2.00" ry="4.00" stroke="#3a3a3a" stroke-width="0.9" fill="#fff" transform="rotate(26.6 359.50 497.30)"/>
<ellipse cx="365.50" cy="500.30" rx="2.00" ry="4.00" stroke="#3a3a3a" stroke-width="0.9" fill="#fff" transform="rotate(26.6 365.50 500.30)"/>
<ellipse cx="360.00" cy="497.60" rx="1.8" ry="4" stroke="#3a3a3a" stroke-width="0.8" fill="none" transform="rotate(27 360.00 497.60)"/>
<ellipse cx="361.50" cy="498.35" rx="1.8" ry="4" stroke="#3a3a3a" stroke-width="0.8" fill="none" transform="rotate(27 361.50 498.35)"/>
<ellipse cx="363.00" cy="499.10" rx="1.8" ry="4" stroke="#3a3a3a" stroke-width="0.8" fill="none" transform="rotate(27 363.00 499.10)"/>
<ellipse cx="364.50" cy="499.85" rx="1.8" ry="4" stroke="#3a3a3a" stroke-width="0.8" fill="none" transform="rotate(27 364.50 499.85)"/>
<polygon points="363.00,505.01 367.00,507.01 372.00,496.99 368.00,494.99" stroke="#3a3a3a" stroke-width="0.9" fill="#fff"/>
<ellipse cx="369.50" cy="502.00" rx="3.08" ry="5.60" stroke="#3a3a3a" stroke-width="0.9" fill="#fff" transform="rotate(26.6 369.50 502.00)"/>
<ellipse cx="365.50" cy="500.00" rx="3.08" ry="5.60" stroke="#3a3a3a" stroke-width="0.9" fill="#fff" transform="rotate(26.6 365.50 500.00)"/>
<ellipse cx="370" cy="502.3" rx="3.0" ry="5.6" stroke="#3a3a3a" stroke-width="0.9" fill="#fff" transform="rotate(27 370 502.3)"/>
<text x="306.7" y="451.7" font-size="8.09" textLength="10.80" lengthAdjust="spacingAndGlyphs" fill="#444">P240</text>
<line x1="311" y1="453" x2="300" y2="471.5" stroke="#3a3a3a" stroke-width="0.8"/>
<text x="316.7" y="460" font-size="7.96" textLength="11.60" lengthAdjust="spacingAndGlyphs" fill="#444">P239</text>
<line x1="319" y1="462" x2="310.5" y2="475.5" stroke="#3a3a3a" stroke-width="0.8"/>
<text x="329.2" y="465" font-size="7.96" textLength="11.10" lengthAdjust="spacingAndGlyphs" fill="#444">P238</text>
<line x1="329" y1="467.5" x2="322" y2="480" stroke="#3a3a3a" stroke-width="0.8"/>
<text x="344.2" y="473.3" font-size="7.96" textLength="10.00" lengthAdjust="spacingAndGlyphs" fill="#444">P237</text>
<line x1="344" y1="476" x2="337.5" y2="486.5" stroke="#3a3a3a" stroke-width="0.8"/>
<text x="358.3" y="479.2" font-size="8.09" textLength="10.90" lengthAdjust="spacingAndGlyphs" fill="#444">P236</text>
<line x1="358" y1="481" x2="349.5" y2="490.5" stroke="#3a3a3a" stroke-width="0.8"/>
<text x="372" y="486" font-size="8.23" textLength="11.00" lengthAdjust="spacingAndGlyphs" fill="#444">P235</text>
<line x1="372" y1="488" x2="364" y2="495.5" stroke="#3a3a3a" stroke-width="0.8"/>
<line x1="262" y1="489.3" x2="342" y2="518.5" stroke="#3a3a3a" stroke-width="0.6"/>
<polygon points="273.36,496.54 287.36,503.04 290.64,495.96 276.64,489.46" stroke="#3a3a3a" stroke-width="0.9" fill="#fff"/>
<ellipse cx="275.00" cy="493.00" rx="1.95" ry="3.90" stroke="#3a3a3a" stroke-width="0.9" fill="#fff" transform="rotate(24.9 275.00 493.00)"/>
<ellipse cx="289.00" cy="499.50" rx="1.95" ry="3.90" stroke="#3a3a3a" stroke-width="0.9" fill="#fff" transform="rotate(24.9 289.00 499.50)"/>
<ellipse cx="276.00" cy="493.50" rx="1.8" ry="3.9" stroke="#3a3a3a" stroke-width="0.7" fill="none" transform="rotate(24 276.00 493.50)"/>
<ellipse cx="278.40" cy="494.60" rx="1.8" ry="3.9" stroke="#3a3a3a" stroke-width="0.7" fill="none" transform="rotate(24 278.40 494.60)"/>
<ellipse cx="280.80" cy="495.70" rx="1.8" ry="3.9" stroke="#3a3a3a" stroke-width="0.7" fill="none" transform="rotate(24 280.80 495.70)"/>
<ellipse cx="283.20" cy="496.80" rx="1.8" ry="3.9" stroke="#3a3a3a" stroke-width="0.7" fill="none" transform="rotate(24 283.20 496.80)"/>
<ellipse cx="285.60" cy="497.90" rx="1.8" ry="3.9" stroke="#3a3a3a" stroke-width="0.7" fill="none" transform="rotate(24 285.60 497.90)"/>
<ellipse cx="288.00" cy="499.00" rx="1.8" ry="3.9" stroke="#3a3a3a" stroke-width="0.7" fill="none" transform="rotate(24 288.00 499.00)"/>
<polygon points="290.38,500.69 301.38,504.69 302.62,501.31 291.62,497.31" stroke="#3a3a3a" stroke-width="0.8" fill="#fff"/>
<ellipse cx="291.00" cy="499.00" rx="0.90" ry="1.80" stroke="#3a3a3a" stroke-width="0.8" fill="#fff" transform="rotate(20.0 291.00 499.00)"/>
<ellipse cx="302.00" cy="503.00" rx="0.90" ry="1.80" stroke="#3a3a3a" stroke-width="0.8" fill="#fff" transform="rotate(20.0 302.00 503.00)"/>
<polygon points="300.49,504.66 312.99,510.66 316.01,504.34 303.51,498.34" stroke="#3a3a3a" stroke-width="0.9" fill="#fff"/>
<ellipse cx="314.50" cy="507.50" rx="1.75" ry="3.50" stroke="#3a3a3a" stroke-width="0.9" fill="#fff" transform="rotate(25.6 314.50 507.50)"/>
<ellipse cx="302.00" cy="501.50" rx="1.75" ry="3.50" stroke="#3a3a3a" stroke-width="0.9" fill="#fff" transform="rotate(25.6 302.00 501.50)"/>
<line x1="305.0" y1="499.0" x2="303.5" y2="505.0" stroke="#3a3a3a" stroke-width="0.8"/>
<line x1="306.6" y1="499.7" x2="305.1" y2="505.7" stroke="#3a3a3a" stroke-width="0.8"/>
<line x1="308.2" y1="500.4" x2="306.7" y2="506.4" stroke="#3a3a3a" stroke-width="0.8"/>
<ellipse cx="321" cy="511.6" rx="2.02" ry="2.80" stroke="#3a3a3a" stroke-width="1.1" fill="#fff" transform="rotate(22 321 511.6)"/>
<ellipse cx="327.6" cy="514" rx="2.02" ry="2.80" stroke="#3a3a3a" stroke-width="1.1" fill="#fff" transform="rotate(22 327.6 514)"/>
<polygon points="334.87,520.46 341.37,523.96 345.63,516.04 339.13,512.54" stroke="#3a3a3a" stroke-width="0.9" fill="#fff"/>
<ellipse cx="337.00" cy="516.50" rx="2.25" ry="4.50" stroke="#3a3a3a" stroke-width="0.9" fill="#fff" transform="rotate(28.3 337.00 516.50)"/>
<ellipse cx="343.50" cy="520.00" rx="2.25" ry="4.50" stroke="#3a3a3a" stroke-width="0.9" fill="#fff" transform="rotate(28.3 343.50 520.00)"/>
<ellipse cx="344" cy="520.3" rx="2.6" ry="4.6" stroke="#3a3a3a" stroke-width="0.9" fill="#fff" transform="rotate(25 344 520.3)"/>
<text x="284" y="541" font-size="8.23" textLength="12.00" lengthAdjust="spacingAndGlyphs" fill="#444">P231</text>
<line x1="291" y1="530" x2="284.5" y2="502" stroke="#3a3a3a" stroke-width="0.8"/>
<text x="304" y="548.4" font-size="8.23" textLength="11.00" lengthAdjust="spacingAndGlyphs" fill="#444">P232</text>
<line x1="311" y1="537" x2="308" y2="508" stroke="#3a3a3a" stroke-width="0.8"/>
<text x="321.6" y="556" font-size="8.78" textLength="10.80" lengthAdjust="spacingAndGlyphs" fill="#444">P233</text>
<line x1="328" y1="545" x2="320.5" y2="514" stroke="#3a3a3a" stroke-width="0.8"/>
<line x1="328" y1="545" x2="328" y2="516.5" stroke="#3a3a3a" stroke-width="0.8"/>
<text x="343.6" y="561" font-size="8.23" textLength="10.40" lengthAdjust="spacingAndGlyphs" fill="#444">P234</text>
<line x1="350" y1="550" x2="341" y2="523.5" stroke="#3a3a3a" stroke-width="0.8"/>
<polyline points="257.5,518.3 246.7,527.5" stroke="#3a3a3a" stroke-width="0.6" fill="none" stroke-dasharray="3,1.5"/>
<polyline points="229.2,523 232,521.5 246.5,528.5 246.5,543 244,545 243,531 232,526 231,529 229.2,528 229.2,523" stroke="#3a3a3a" stroke-width="0.9" fill="#fff"/>
<line x1="232" y1="521.5" x2="232" y2="526" stroke="#3a3a3a" stroke-width="0.7"/>
<line x1="243" y1="531" x2="246.5" y2="528.5" stroke="#3a3a3a" stroke-width="0.7"/>
<ellipse cx="239" cy="534" rx="1.2" ry="1.2" stroke="#3a3a3a" stroke-width="0.7" fill="none"/>
<ellipse cx="245" cy="543" rx="1.2" ry="1.2" stroke="#3a3a3a" stroke-width="0.7" fill="none"/>
<line x1="226" y1="542" x2="240" y2="534" stroke="#3a3a3a" stroke-width="0.6"/>
<line x1="246" y1="543.5" x2="268" y2="551" stroke="#3a3a3a" stroke-width="0.6"/>
<ellipse cx="230" cy="543" rx="2.3" ry="2.8" stroke="#3a3a3a" stroke-width="1.5" fill="#777" transform="rotate(25 230 543)"/>
<ellipse cx="230" cy="543" rx="1.0" ry="1.3" stroke="#3a3a3a" stroke-width="0.6" fill="#fff" transform="rotate(25 230 543)"/>
<polygon points="223.49,546.38 212.99,553.88 216.01,558.12 226.51,550.62" stroke="#3a3a3a" stroke-width="0.9" fill="#fff"/>
<ellipse cx="214.50" cy="556.00" rx="1.30" ry="2.60" stroke="#3a3a3a" stroke-width="0.9" fill="#fff" transform="rotate(144.5 214.50 556.00)"/>
<ellipse cx="225.00" cy="548.50" rx="1.30" ry="2.60" stroke="#3a3a3a" stroke-width="0.9" fill="#fff" transform="rotate(144.5 225.00 548.50)"/>
<polygon points="256.97,548.56 260.97,550.56 263.03,546.44 259.03,544.44" stroke="#3a3a3a" stroke-width="1.2" fill="#fff"/>
<ellipse cx="258.00" cy="546.50" rx="1.15" ry="2.30" stroke="#3a3a3a" stroke-width="1.2" fill="#fff" transform="rotate(26.6 258.00 546.50)"/>
<ellipse cx="262.00" cy="548.50" rx="1.15" ry="2.30" stroke="#3a3a3a" stroke-width="1.2" fill="#fff" transform="rotate(26.6 262.00 548.50)"/>
<line x1="258.5" y1="544.8" x2="257.8" y2="549.0" stroke="#3a3a3a" stroke-width="0.7"/>
<line x1="259.8" y1="545.4" x2="259.1" y2="549.6" stroke="#3a3a3a" stroke-width="0.7"/>
<line x1="261.1" y1="546.0" x2="260.40000000000003" y2="550.2" stroke="#3a3a3a" stroke-width="0.7"/>
<ellipse cx="269.2" cy="550.8" rx="2.4" ry="3" stroke="#3a3a3a" stroke-width="1.6" fill="#fff" transform="rotate(20 269.2 550.8)"/>
<text x="196.7" y="549.2" font-size="7.54" textLength="10.50" lengthAdjust="spacingAndGlyphs" fill="#444">P226</text>
<line x1="209" y1="546" x2="226.5" y2="542.5" stroke="#3a3a3a" stroke-width="0.8"/>
<text x="198" y="579.7" font-size="8.23" textLength="10.30" lengthAdjust="spacingAndGlyphs" fill="#444">P227</text>
<line x1="204" y1="570" x2="214.5" y2="558.5" stroke="#3a3a3a" stroke-width="0.8"/>
<text x="226.3" y="579.7" font-size="8.23" textLength="10.40" lengthAdjust="spacingAndGlyphs" fill="#444">P228</text>
<line x1="234" y1="570" x2="245" y2="545" stroke="#3a3a3a" stroke-width="0.8"/>
<text x="246.7" y="579.7" font-size="8.23" textLength="10.30" lengthAdjust="spacingAndGlyphs" fill="#444">P229</text>
<line x1="255" y1="570" x2="259.5" y2="550" stroke="#3a3a3a" stroke-width="0.8"/>
<text x="270.4" y="580" font-size="8.23" textLength="11.20" lengthAdjust="spacingAndGlyphs" fill="#444">P230</text>
<line x1="276" y1="570" x2="269.5" y2="553.5" stroke="#3a3a3a" stroke-width="0.8"/>
</svg></body></html>
